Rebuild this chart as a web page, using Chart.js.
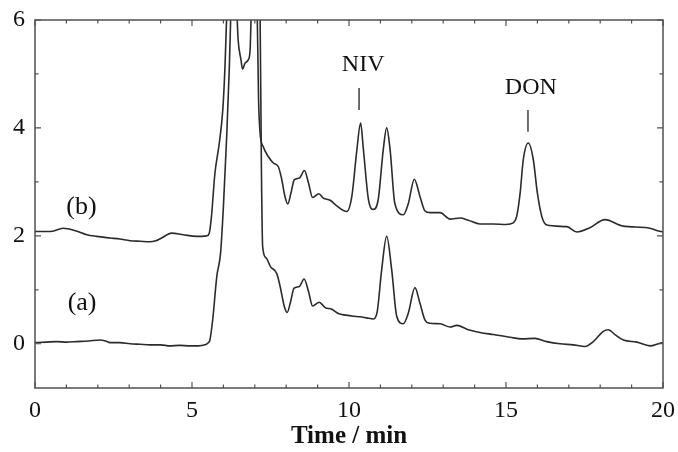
<!DOCTYPE html>
<html>
<head>
<meta charset="utf-8">
<script src="https://cdn.jsdelivr.net/npm/chart.js@4/dist/chart.umd.min.js"></script>
<style>
  html, body { margin: 0; padding: 0; background: #fff; }
  #wrap { width: 678px; height: 452px; }
</style>
</head>
<body>
<div id="wrap"><canvas id="c" width="678" height="452"></canvas></div>
<script>
// ---- data ----
const timesA = [0,0.35,0.69,1.0,1.33,1.7,2.07,2.25,2.39,2.7,3.03,3.35,3.66,4.0,4.3,4.6,4.94,5.2,5.41,5.52,5.57,5.66,5.79,5.91,6.0,6.1,6.19,6.23,6.3,6.38,6.44,6.47,6.56,6.61,6.69,6.79,6.85,6.88,6.95,7.08,7.17,7.21,7.25,7.36,7.5,7.7,7.8,7.94,8.03,8.14,8.25,8.42,8.57,8.71,8.84,9.05,9.24,9.45,9.66,9.9,10.14,10.35,10.56,10.78,10.9,11.04,11.2,11.36,11.52,11.73,11.89,12.1,12.26,12.42,12.58,12.9,13.22,13.43,13.8,14.17,14.6,15.13,15.5,15.92,16.3,16.72,17.14,17.52,17.78,18.1,18.26,18.47,18.74,19.17,19.59,19.9,20];
const valuesA = [0.02,0.03,0.04,0.03,0.04,0.05,0.07,0.05,0.02,0.02,0.0,-0.01,-0.02,-0.02,-0.04,-0.03,-0.04,-0.04,-0.02,0.02,0.07,0.45,1.25,1.68,2.54,3.78,5.14,6.0,7.4,7.0,6.0,5.63,5.26,5.09,5.2,5.26,5.44,6.0,7.4,7.4,6.0,3.28,1.8,1.59,1.43,1.3,1.08,0.69,0.58,0.78,1.03,1.06,1.2,0.97,0.7,0.77,0.67,0.64,0.56,0.53,0.51,0.5,0.48,0.46,0.6,1.37,1.99,1.37,0.51,0.37,0.57,1.04,0.75,0.44,0.38,0.37,0.31,0.34,0.26,0.21,0.17,0.12,0.09,0.1,0.04,0.0,-0.02,-0.05,0.04,0.23,0.26,0.17,0.07,0.03,-0.04,0.01,0.02];

const timesB = [0,0.48,0.9,1.26,1.65,1.96,2.39,2.7,3.03,3.35,3.66,3.85,4.03,4.35,4.72,5.15,5.47,5.55,5.62,5.73,5.87,5.98,6.05,6.1,6.2,6.4,6.7,6.95,7.05,7.08,7.12,7.17,7.27,7.43,7.59,7.75,7.86,7.96,8.05,8.15,8.26,8.42,8.58,8.71,8.84,9.04,9.18,9.4,9.6,9.93,10.09,10.25,10.37,10.46,10.62,10.78,10.93,11.09,11.2,11.31,11.46,11.73,11.89,12.08,12.26,12.42,12.58,12.9,13.22,13.54,13.8,14.17,14.6,15.0,15.23,15.34,15.45,15.55,15.71,15.87,16.0,16.14,16.3,16.94,17.26,17.67,18.15,18.73,19.5,19.8,20];
const valuesB = [2.08,2.08,2.14,2.10,2.02,1.99,1.96,1.94,1.91,1.9,1.89,1.91,1.96,2.05,2.02,1.99,2.0,2.05,2.36,3.16,3.72,4.33,5.13,6.0,7.6,8.2,8.0,8.2,7.5,6.0,4.52,3.9,3.65,3.47,3.35,3.28,3.04,2.73,2.59,2.79,3.04,3.07,3.21,2.98,2.71,2.78,2.7,2.66,2.56,2.45,2.73,3.59,4.09,3.59,2.67,2.49,2.67,3.59,4.0,3.59,2.6,2.39,2.6,3.05,2.73,2.46,2.43,2.43,2.31,2.33,2.29,2.22,2.22,2.21,2.24,2.36,2.79,3.41,3.72,3.41,2.79,2.36,2.2,2.17,2.07,2.15,2.3,2.18,2.15,2.1,2.07];

const xTicks = [0,5,10,15,20];
const yTicks = [0,2,4,6];
const xMinorTicks = [1,2,3,4,6,7,8,9,11,12,13,14,16,17,18,19];
const yMinorTicks = [1,3,5];
const xTitle = 'Time / min';

// text labels: [text, time, value]
const traceLabels = [['(a)',1.5,0.76],['(b)',1.48,2.54]];
const peakLabels = [['NIV',10.45,5.17],['DON',15.79,4.74]];
// peak markers: [time, value from, value to]
const peakMarkers = [[10.32,4.74,4.33],[15.7,4.33,3.93]];

const SERIF = '"Liberation Serif", "Times New Roman", serif';

const toPts = (ts, vs) => ts.map((t,i) => ({x:t, y:vs[i]}));

const frame = {
  id: 'frame',
  afterDatasetsDraw(chart) {
    const {ctx, chartArea: a, scales: {x, y}} = chart;
    ctx.save();
    ctx.strokeStyle = '#505050';
    ctx.lineWidth = 1.5;
    ctx.strokeRect(a.left, a.top, a.right - a.left, a.bottom - a.top);
    ctx.lineWidth = 1.2;
    ctx.beginPath();
    const tickX = (v, len) => {
      const px = x.getPixelForValue(v);
      ctx.moveTo(px, a.bottom); ctx.lineTo(px, a.bottom - len);
      ctx.moveTo(px, a.top); ctx.lineTo(px, a.top + len);
    };
    const tickY = (v, len) => {
      const py = y.getPixelForValue(v);
      ctx.moveTo(a.left, py); ctx.lineTo(a.left + len, py);
      ctx.moveTo(a.right, py); ctx.lineTo(a.right - len, py);
    };
    xTicks.forEach(v => tickX(v, 6));
    xMinorTicks.forEach(v => tickX(v, 3.5));
    yTicks.forEach(v => tickY(v, 6));
    yMinorTicks.forEach(v => tickY(v, 3.5));
    ctx.stroke();

    // peak markers
    ctx.strokeStyle = '#222';
    ctx.lineWidth = 1.3;
    ctx.beginPath();
    peakMarkers.forEach(([t, v1, v2]) => {
      const px = x.getPixelForValue(t);
      ctx.moveTo(px, y.getPixelForValue(v1));
      ctx.lineTo(px, y.getPixelForValue(v2));
    });
    ctx.stroke();

    ctx.fillStyle = '#111';
    ctx.textAlign = 'center';
    ctx.textBaseline = 'middle';
    ctx.font = '26px ' + SERIF;
    traceLabels.forEach(([s, t, v]) => ctx.fillText(s, x.getPixelForValue(t), y.getPixelForValue(v)));
    ctx.font = '24px ' + SERIF;
    peakLabels.forEach(([s, t, v]) => ctx.fillText(s, x.getPixelForValue(t), y.getPixelForValue(v)));
    ctx.restore();
  }
};

new Chart(document.getElementById('c'), {
  type: 'line',
  data: {
    datasets: [
      { label: '(a)', data: toPts(timesA, valuesA) },
      { label: '(b)', data: toPts(timesB, valuesB) }
    ]
  },
  options: {
    responsive: false,
    animation: false,
    parsing: true,
    layout: { padding: { top: 20, right: 15, left: 0, bottom: 0 } },
    elements: {
      point: { radius: 0 },
      line: { borderColor: '#2b2b2b', borderWidth: 1.6, cubicInterpolationMode: 'monotone', fill: false }
    },
    plugins: { legend: { display: false }, tooltip: { enabled: false } },
    scales: {
      x: {
        type: 'linear', min: 0, max: 20,
        afterBuildTicks: s => { s.ticks = xTicks.map(v => ({value: v})); },
        afterFit: s => { s.height = 64; s.paddingLeft = 0; s.paddingRight = 0; },
        grid: { display: false, drawTicks: false },
        border: { display: false },
        ticks: { color: '#111', padding: 8, maxRotation: 0, font: { family: SERIF, size: 24 } },
        title: { display: true, text: xTitle, color: '#111', padding: { top: 0, bottom: 0 }, font: { family: SERIF, size: 25, weight: 'bold' } }
      },
      y: {
        type: 'linear', min: -0.82, max: 6,
        afterBuildTicks: s => { s.ticks = yTicks.map(v => ({value: v})); },
        afterFit: s => { s.width = 35; s.paddingTop = 0; s.paddingBottom = 0; },
        grid: { display: false, drawTicks: false },
        border: { display: false },
        ticks: { color: '#111', padding: 10, font: { family: SERIF, size: 24 } }
      }
    }
  },
  plugins: [frame]
});
</script>
</body>
</html>
